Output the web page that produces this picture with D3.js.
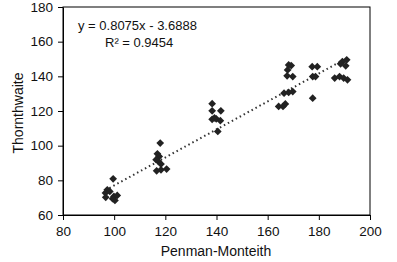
<!DOCTYPE html>
<html>
<head>
<meta charset="utf-8">
<script src="https://cdn.jsdelivr.net/npm/d3@7"></script>
<style>
  body { margin: 0; background: #fff; }
  text { font-family: "Liberation Sans", Arial, sans-serif; }
</style>
</head>
<body>
<svg id="drawing_region"></svg>
<script>
// Penman-Monteith (x) vs Thornthwaite (y)
const pmValues = [
    99.6, 97.3, 96.6, 96.7, 98.3, 99.9, 100.3, 101.2, 99.4,
    118.0, 116.9, 117.6, 117.3, 118.3, 116.6, 118.3, 120.5, 116.4,
    138.3, 138.3, 141.7, 138.3, 139.9, 141.5, 140.5, 139.2,
    168.2, 169.2, 167.8, 167.6, 169.8, 166.4, 168.2, 169.8, 164.3, 166.0, 166.9,
    177.4, 179.4, 177.6, 178.7, 177.6,
    189.2, 190.9, 188.5, 190.5, 186.2, 188.1, 189.7, 191.2
];
const thValues = [
    80.9, 74.5, 72.7, 70.2, 73.6, 70.7, 68.4, 71.3, 69.4,
    101.5, 95.3, 93.8, 90.9, 89.4, 85.5, 86.1, 86.5, 91.9,
    124.2, 120.1, 120.1, 115.2, 115.5, 114.4, 108.2, 116.0,
    146.6, 146.2, 143.7, 140.3, 139.9, 130.3, 130.7, 131.2, 122.6, 122.6, 124.1,
    145.6, 145.6, 139.9, 139.9, 127.4,
    148.5, 149.5, 147.2, 146.1, 139.0, 139.9, 139.0, 138.0
];
const xTicks = [80, 100, 120, 140, 160, 180, 200];
const yTicks = [60, 80, 100, 120, 140, 160, 180];
const slope = 0.8075;
const intercept = -3.6888;
const eqLabel = "y = 0.8075x - 3.6888";
const r2Label = "R² = 0.9454";
const xTitle = "Penman-Monteith";
const yTitle = "Thornthwaite";

const data = pmValues.map((x, i) => ({ x: x, y: thValues[i] }));

const config = {
    width: 397,
    height: 262,
    margin: { top: 7, right: 27, bottom: 47, left: 63 }
};

const svg = d3.select('#drawing_region')
    .attr('width', config.width)
    .attr('height', config.height);

const inner_width = config.width - config.margin.left - config.margin.right;
const inner_height = config.height - config.margin.top - config.margin.bottom;

const chart = svg.append('g')
    .attr('transform', `translate(${config.margin.left}, ${config.margin.top})`);

const xscale = d3.scaleLinear().domain([80, 200]).range([0, inner_width]);
const yscale = d3.scaleLinear().domain([60, 180]).range([inner_height, 0]);

// frame
chart.append('rect')
    .attr('width', inner_width)
    .attr('height', inner_height)
    .attr('fill', 'none')
    .attr('stroke', '#000')
    .attr('stroke-width', 1);

const xaxis = d3.axisBottom(xscale).tickValues(xTicks).tickSizeInner(5).tickSizeOuter(0).tickPadding(6);
const yaxis = d3.axisLeft(yscale).tickValues(yTicks).tickSizeInner(5).tickSizeOuter(0).tickPadding(5);

const xg = chart.append('g')
    .attr('transform', `translate(0, ${inner_height})`)
    .call(xaxis);
const yg = chart.append('g').call(yaxis);

[xg, yg].forEach(g => {
    g.select('.domain').attr('stroke', '#000');
    g.selectAll('.tick line').attr('stroke', '#000');
    g.selectAll('.tick text')
        .attr('fill', '#111')
        .style('font-size', '13.5px')
        .style('font-family', '"Liberation Sans", Arial, sans-serif');
});

// trend line over data extent
const xext = d3.extent(pmValues);
chart.append('line')
    .attr('x1', xscale(xext[0]))
    .attr('y1', yscale(slope * xext[0] + intercept))
    .attr('x2', xscale(xext[1]))
    .attr('y2', yscale(slope * xext[1] + intercept))
    .attr('stroke', '#333')
    .attr('stroke-width', 2)
    .attr('stroke-dasharray', '1.5,3');

// diamonds
chart.selectAll('path.pt').data(data).enter()
    .append('path')
    .attr('class', 'pt')
    .attr('d', d3.symbol(d3.symbolSquare, 30))
    .attr('transform', d => `translate(${xscale(d.x)}, ${yscale(d.y)}) rotate(45)`)
    .attr('fill', '#222');

// equation
svg.append('text')
    .attr('x', 78)
    .attr('y', 30)
    .style('font-size', '13px')
    .attr('fill', '#111')
    .text(eqLabel);
svg.append('text')
    .attr('x', 105)
    .attr('y', 47)
    .style('font-size', '13px')
    .attr('fill', '#111')
    .text(r2Label);

// axis titles
svg.append('text')
    .attr('x', 216)
    .attr('y', 256)
    .attr('text-anchor', 'middle')
    .style('font-size', '14px')
    .attr('fill', '#111')
    .text(xTitle);
svg.append('text')
    .attr('transform', `translate(23, 113) rotate(-90)`)
    .attr('text-anchor', 'middle')
    .style('font-size', '14px')
    .attr('fill', '#111')
    .text(yTitle);
</script>
</body>
</html>
